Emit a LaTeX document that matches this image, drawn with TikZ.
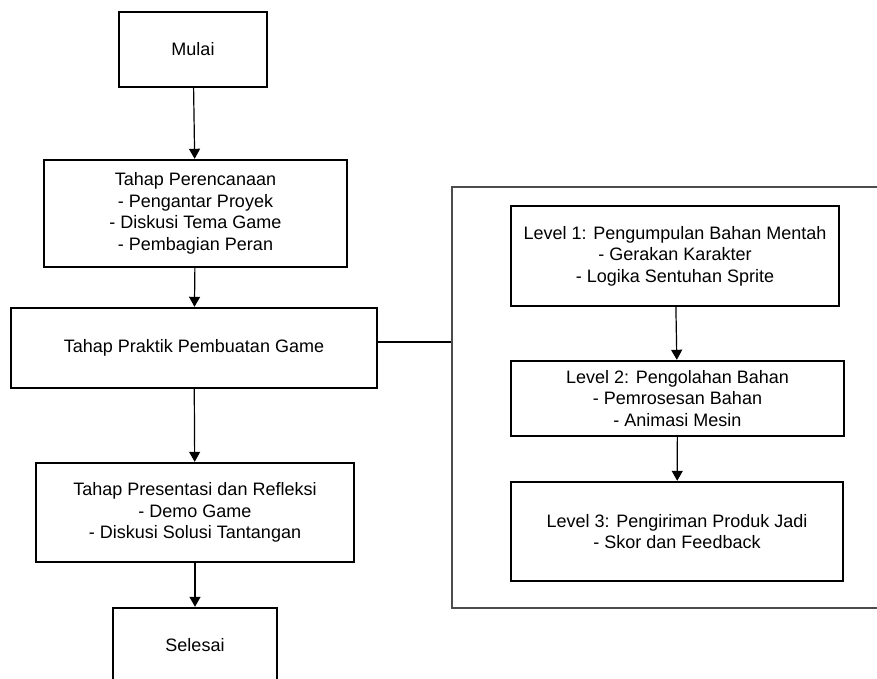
\documentclass[tikz,border=0pt]{standalone}
\usepackage{fontspec}
\setmainfont{Liberation Sans}
\usetikzlibrary{arrows.meta}
\begin{document}
\begin{tikzpicture}[x=1pt,y=-1pt,
  kotak/.style={draw,line width=2.4pt,align=center,inner sep=0pt,font=\fontsize{18}{21.5}\selectfont},
  panah/.style={line width=1.2pt,-{Triangle[width=11pt,length=10pt]}}]
\clip (0,0) rectangle (877,679);
% kotak besar untuk level
\node[draw=black!70,line width=1.3pt,minimum width=438pt,minimum height=421pt,inner sep=0pt] (grup) at (671,397.5) {};
% alur utama
\node[kotak,minimum width=148pt,minimum height=75pt] (mulai) at (193,49.5) {Mulai};
\node[kotak,minimum width=303pt,minimum height=107pt] (rencana) at (195.5,213.5)
  {Tahap Perencanaan\\- Pengantar Proyek\\- Diskusi Tema Game\\- Pembagian Peran};
\node[kotak,minimum width=366pt,minimum height=80pt] (praktik) at (194,348) {Tahap Praktik Pembuatan Game};
\node[kotak,minimum width=318pt,minimum height=99pt] (presentasi) at (195,512.5)
  {Tahap Presentasi dan Refleksi\\- Demo Game\\- Diskusi Solusi Tantangan};
\node[kotak,minimum width=164pt,minimum height=74pt] (selesai) at (195,645) {Selesai};
% level
\node[kotak,minimum width=328pt,minimum height=100pt] (level1) at (675,256)
  {Level 1: Pengumpulan Bahan Mentah\\- Gerakan Karakter\\- Logika Sentuhan Sprite};
\node[kotak,minimum width=333pt,minimum height=75pt] (level2) at (677.5,398.5)
  {Level 2: Pengolahan Bahan\\- Pemrosesan Bahan\\- Animasi Mesin};
\node[kotak,minimum width=332pt,minimum height=99pt] (level3) at (677,531.5)
  {Level 3: Pengiriman Produk Jadi\\- Skor dan Feedback};
% panah
\draw[panah] (mulai) -- (rencana);
\draw[panah] (rencana) -- (praktik);
\draw[panah] (praktik) -- (presentasi);
\draw[panah] (presentasi) -- (selesai);
\draw[panah] (level1) -- (level2);
\draw[panah] (level2) -- (level3);
\draw[line width=1.2pt] ([yshift=6pt]praktik.east) -- ([yshift=6pt]praktik.east -| grup.west);
\end{tikzpicture}
\end{document}
